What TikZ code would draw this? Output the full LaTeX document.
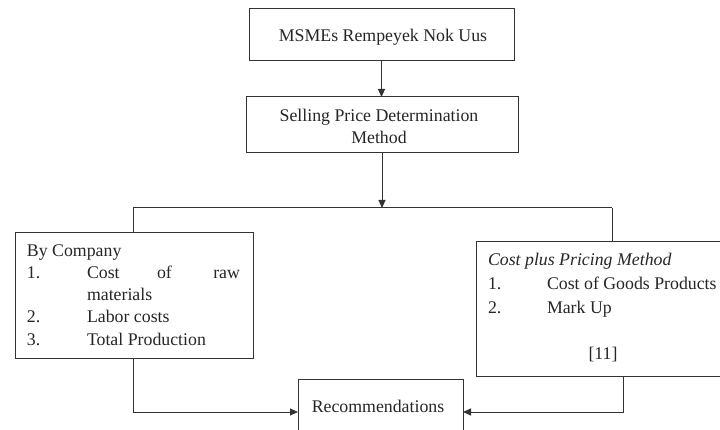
\documentclass[tikz,border=0pt]{standalone}
\usepackage{fontspec}
\setmainfont{Liberation Serif}
\usetikzlibrary{arrows.meta}
\newcommand\figfont{\fontsize{17.8}{22}\selectfont}
\begin{document}
\begin{tikzpicture}[x=1pt,y=-1pt,
  box/.style={draw=black!80,line width=1pt,inner sep=0pt,outer sep=0pt,fill=white},
  lbl/.style={inner sep=0pt,outer sep=0pt,anchor=base west,font=\figfont,text=black!85},
  arr/.style={-{Triangle[length=8pt,width=7pt]},line width=1pt,draw=black!80},
  ln/.style={line width=1pt,draw=black!80}]
\useasboundingbox (0,0) rectangle (720,430);
\clip (0,0) rectangle (720,430);
\fill[white] (0,0) rectangle (720,430);
% boxes
\node[box,minimum width=265pt,minimum height=52pt] (top) at (381.5,35) {};
\node[box,minimum width=272pt,minimum height=56pt] (sel) at (382,125) {};
\node[box,minimum width=238pt,minimum height=125pt] (lb) at (134,295.5) {};
\node[box,minimum width=264pt,minimum height=134pt] (rb) at (608,309) {};
\node[box,minimum width=165pt,minimum height=66pt] (rec) at (380.5,412) {};
% texts
\node[lbl,anchor=base] (t1) at (383,42) {MSMEs Rempeyek Nok Uus};
\node[lbl,anchor=base] (s1) at (379,122) {Selling Price Determination};
\node[lbl,anchor=base] (s2) at (379,144) {Method};
\node[lbl] (l0) at (27,257) {By Company};
\node[lbl] (l1n) at (27,279) {1.};
\node[lbl] (l1a) at (87,279) {Cost};
\node[lbl] (l1b) at (157,279) {of};
\node[lbl,anchor=base east] (l1c) at (240,279) {raw};
\node[lbl] (l1d) at (87,301) {materials};
\node[lbl] (l2n) at (27,323) {2.};
\node[lbl] (l2) at (87,323) {Labor costs};
\node[lbl] (l3n) at (27,345) {3.};
\node[lbl] (l3) at (87,345) {Total Production};
\node[lbl,font=\figfont\itshape] (r0) at (488,266) {Cost plus Pricing Method};
\node[lbl] (r1n) at (488,290) {1.};
\node[lbl] (r1) at (547,290) {Cost of Goods Products};
\node[lbl] (r2n) at (488,313) {2.};
\node[lbl] (r2) at (547,313) {Mark Up};
\node[lbl,anchor=base] (ref) at (603,359) {[11]};
\node[lbl,anchor=base] (rt) at (378,412) {Recommendations};
% connectors
\coordinate (hl) at (133,208);
\coordinate (hr) at (612,208);
\draw[arr] (top.south) -- (top.south |- sel.north);
\draw[ln] (hl) -- (hr);
\draw[arr] (sel.south) -- (sel.south |- hl);
\draw[ln] (hl) -- (hl |- lb.north);
\draw[ln] (hr) -- (hr |- rb.north);
\draw[arr] ([xshift=-1pt]lb.south) |- (rec.west);
\draw[arr] ([xshift=15pt]rb.south) |- (rec.east);
\end{tikzpicture}
\end{document}
